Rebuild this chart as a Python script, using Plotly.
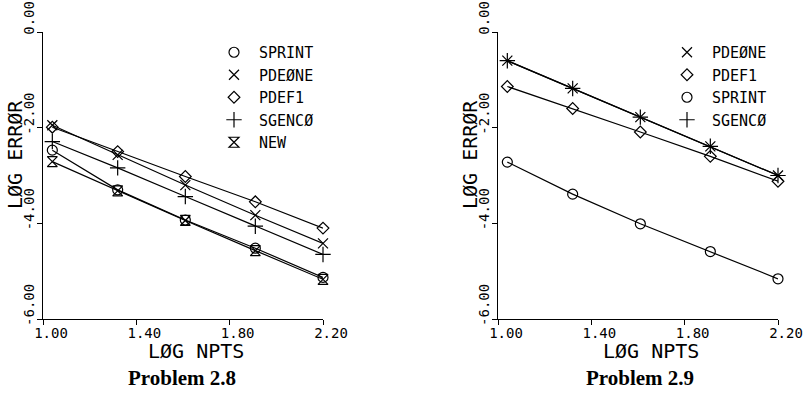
import plotly.graph_objects as go

# ---- data ----
log_npts = [1.04, 1.32, 1.61, 1.91, 2.20]

# Problem 2.8
p28_names = ["SPRINT", "PDEØNE", "PDEF1", "SGENCØ", "NEW"]
p28_sprint = [-2.47, -3.30, -3.93, -4.52, -5.13]
p28_pdeone = [-1.95, -2.57, -3.20, -3.83, -4.42]
p28_pdef1 = [-1.99, -2.50, -3.02, -3.55, -4.10]
p28_sgenco = [-2.29, -2.84, -3.44, -4.06, -4.65]
p28_new = [-2.71, -3.32, -3.94, -4.57, -5.17]

# Problem 2.9
p29_names = ["PDEØNE", "PDEF1", "SPRINT", "SGENCØ"]
p29_pdeone = [-0.60, -1.18, -1.78, -2.39, -3.00]
p29_pdef1 = [-1.14, -1.60, -2.09, -2.60, -3.12]
p29_sprint = [-2.72, -3.39, -4.01, -4.59, -5.16]
p29_sgenco = [-0.60, -1.18, -1.78, -2.39, -3.00]

x_tickvals = [1.0, 1.4, 1.8, 2.2]
x_ticktext = ["1.00", "1.40", "1.80", "2.20"]
y_tickvals = [0, -2, -4, -6]
y_ticktext = ["0.00", "-2.00", "-4.00", "-6.00"]

titles = ["Problem 2.8", "Problem 2.9"]

# ---- styles ----
MONO = "DejaVu Sans Mono"
SYM = {
    "SPRINT": "circle-open",
    "PDEØNE": "x-thin-open",
    "PDEF1": "diamond-open",
    "SGENCØ": "cross-thin-open",
    "NEW": "hourglass-open",
}
SIZE = {"SPRINT": 10, "PDEØNE": 10, "PDEF1": 9, "SGENCØ": 11, "NEW": 10}

fig = go.Figure()


def add_series(name, ys, xa, ya, legend):
    fig.add_trace(go.Scatter(
        x=log_npts, y=ys, mode="lines", xaxis=xa, yaxis=ya,
        line=dict(color="black", width=1.2), showlegend=False, hoverinfo="skip"))
    fig.add_trace(go.Scatter(
        x=log_npts, y=ys, mode="markers", xaxis=xa, yaxis=ya, name=name,
        legend=legend, cliponaxis=False,
        marker=dict(symbol=SYM[name], size=SIZE[name], color="black",
                    line=dict(color="black", width=1.2))))


p28 = dict(zip(p28_names, [p28_sprint, p28_pdeone, p28_pdef1, p28_sgenco, p28_new]))
p29 = dict(zip(p29_names, [p29_pdeone, p29_pdef1, p29_sprint, p29_sgenco]))
for n in p28_names:
    add_series(n, p28[n], "x", "y", "legend")
for n in p29_names:
    add_series(n, p29[n], "x2", "y2", "legend2")

W, H = 805, 395


def px(x):
    return x / W


def py(y):
    return 1 - y / H


xdom1 = [px(43), px(323)]
xdom2 = [px(498), px(778)]
ydom = [py(319), py(32)]

axis_common = dict(showline=True, linecolor="black", linewidth=1.2, showgrid=False,
                   zeroline=False, ticks="outside", ticklen=5, tickcolor="black",
                   tickwidth=1.2, automargin=False, ticklabeloverflow="allow",
                   tickfont=dict(family=MONO, size=14, color="black"))

for i, (xd, xn, yn) in enumerate([(xdom1, "xaxis", "yaxis"), (xdom2, "xaxis2", "yaxis2")]):
    suffix = "" if i == 0 else "2"
    fig.layout[xn] = dict(domain=xd, range=[1.0, 2.2], tickvals=x_tickvals,
                          ticktext=x_ticktext, anchor="y" + suffix,
                          ticklabelshift=8, ticklabelstandoff=-4, **axis_common)
    fig.layout[yn] = dict(domain=ydom, range=[-6, 0], tickvals=y_tickvals,
                          ticktext=y_ticktext, anchor="x" + suffix,
                          tickangle=-90, ticklabelshift=-12, ticklabelstandoff=-3,
                          **axis_common)

legend_style = dict(font=dict(family=MONO, size=15, color="black"),
                    bgcolor="rgba(0,0,0,0)", borderwidth=0, itemwidth=40,
                    xanchor="left", yanchor="top", itemclick=False)
fig.update_layout(
    legend=dict(x=px(209), y=py(36), **legend_style),
    legend2=dict(x=px(662), y=py(36), **legend_style),
)

ann = []
for cx, t in [(196, "LØG NPTS"), (651, "LØG NPTS")]:
    ann.append(dict(x=px(cx), y=py(351), text=t,
                    font=dict(family=MONO, size=20, color="black")))
for cx in [15, 470]:
    ann.append(dict(x=px(cx), y=py(155), text="LØG ERRØR", textangle=-90,
                    font=dict(family=MONO, size=20, color="black")))
for cx, t in zip([182, 640], titles):
    ann.append(dict(x=px(cx), y=py(378), text="<b>" + t + "</b>",
                    font=dict(family="Liberation Serif", size=21, color="black")))
for a in ann:
    a.update(xref="paper", yref="paper", xanchor="center", yanchor="middle",
             showarrow=False)

fig.update_layout(width=W, height=H, margin=dict(l=0, r=0, t=0, b=0),
                  paper_bgcolor="white", plot_bgcolor="white", annotations=ann)

fig.write_html("out.html")
